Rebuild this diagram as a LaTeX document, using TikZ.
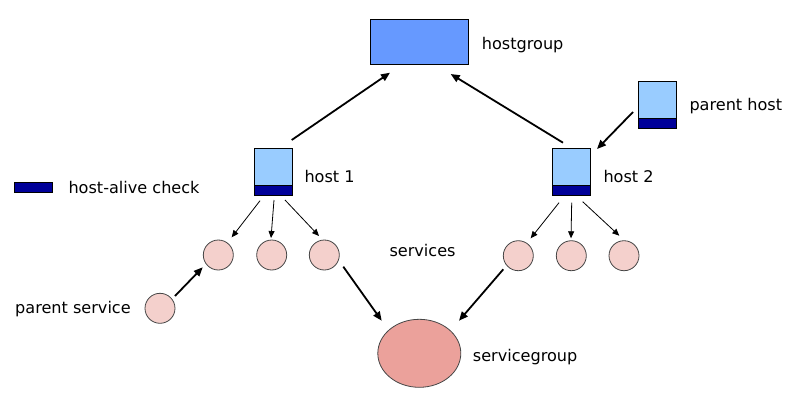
\documentclass[tikz,border=0pt]{standalone}
\usepackage{fontspec}
\setmainfont{DejaVu Sans}
\usetikzlibrary{arrows.meta,shapes.geometric}
\definecolor{hgblue}{RGB}{102,153,255}
\definecolor{hostblue}{RGB}{153,204,255}
\definecolor{alive}{RGB}{0,0,153}
\definecolor{svcpink}{RGB}{244,208,204}
\definecolor{sgpink}{RGB}{235,161,155}
\definecolor{circline}{RGB}{70,70,70}
\begin{document}
\begin{tikzpicture}[x=1pt,y=-1pt,
  lbl/.style={anchor=base west,inner sep=0pt,font=\fontsize{16.1}{19}\selectfont},
  hostbox/.style={draw=black,line width=0.8pt,fill=hostblue,minimum width=38pt,minimum height=47pt,inner sep=0pt,
    path picture={\fill[alive] (path picture bounding box.south west) rectangle ([yshift=10pt]path picture bounding box.south east);
      \draw[black,line width=0.8pt] ([yshift=10pt]path picture bounding box.south west) -- ([yshift=10pt]path picture bounding box.south east);}},
  svc/.style={circle,draw=circline,line width=0.8pt,fill=svcpink,minimum size=30pt,inner sep=0pt},
  bigarrow/.style={line width=1.8pt,-{Triangle[length=9pt,width=7.5pt]}},
  smallarrow/.style={line width=0.8pt,-{Triangle[length=7pt,width=6pt]}}]
\useasboundingbox (0,0) rectangle (800,410);

% nodes
\node[draw=black,line width=0.8pt,fill=hgblue,minimum width=98pt,minimum height=45pt,inner sep=0pt] (hg) at (419.3,41.7) {};
\node[hostbox] (h1) at (273.3,171.8) {};
\node[hostbox] (h2) at (571.3,172) {};
\node[hostbox] (ph) at (657.3,105) {};
\node[draw=black,line width=0.8pt,fill=alive,minimum width=38pt,minimum height=9.5pt,inner sep=0pt] (legend) at (33,187.5) {};

\node[svc] (s11) at (218.3,255) {};
\node[svc] (s12) at (271.7,255) {};
\node[svc] (s13) at (324.3,255) {};
\node[svc] (s21) at (518.3,255.7) {};
\node[svc] (s22) at (571.3,255.7) {};
\node[svc] (s23) at (624,255.7) {};
\node[svc] (ps) at (160,308.3) {};
\node[ellipse,draw=circline,line width=0.8pt,fill=sgpink,minimum width=83pt,minimum height=68pt,inner sep=0pt] (sg) at (419.3,353.3) {};

% labels
\node[lbl] (thg) at (481.7,49.3) {hostgroup};
\node[lbl] (th1) at (304.3,182.3) {host 1};
\node[lbl] (th2) at (603.3,182.3) {host 2};
\node[lbl] (tph) at (689.3,110.7) {parent host};
\node[lbl] (tsv) at (389.3,256.7) {services};
\node[lbl] (tsg) at (472.7,361.7) {servicegroup};
\node[lbl] (tlg) at (68.3,193.3) {host-alive check};
\node[lbl] (tps) at (15,313.3) {parent service};

% thick arrows
\draw[bigarrow] ([shift={(18.4,-31.8)}]h1.center) -- ([shift={(-29.3,31)}]hg.center);
\draw[bigarrow] ([shift={(-8.3,-29.3)}]h2.center) -- ([shift={(31.4,32.3)}]hg.center);
\draw[bigarrow] ([shift={(-24.3,7)}]ph.center) -- ([shift={(25.7,-23)}]h2.center);
\draw[bigarrow] ([shift={(19,11.7)}]s13.center) -- ([shift={(-37.6,-32.6)}]sg.center);
\draw[bigarrow] ([shift={(-15,13.6)}]s21.center) -- ([shift={(39.7,-32.6)}]sg.center);
\draw[bigarrow] ([shift={(15,-12.3)}]ps.center) -- ([shift={(-15.6,12.3)}]s11.center);

% thin arrows
\draw[smallarrow] ([shift={(-13.3,28.9)}]h1.center) -- ([shift={(13.4,-17.7)}]s11.center);
\draw[smallarrow] ([shift={(0.7,28.2)}]h1.center) -- ([shift={(-0.7,-17)}]s12.center);
\draw[smallarrow] ([shift={(11.7,28.2)}]h1.center) -- ([shift={(-5.3,-19)}]s13.center);
\draw[smallarrow] ([shift={(-12.3,30.7)}]h2.center) -- ([shift={(12.4,-17.4)}]s21.center);
\draw[smallarrow] ([shift={(0.4,30.7)}]h2.center) -- ([shift={(-0.3,-17.4)}]s22.center);
\draw[smallarrow] ([shift={(11.4,29.7)}]h2.center) -- ([shift={(-4.7,-20)}]s23.center);
\end{tikzpicture}
\end{document}
